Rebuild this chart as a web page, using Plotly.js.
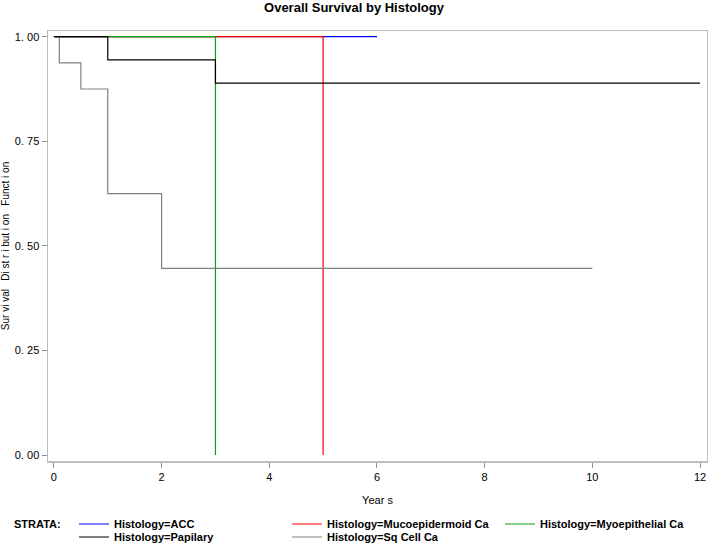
<!DOCTYPE html>
<html>
<head>
<meta charset="utf-8">
<script src="https://cdn.plot.ly/plotly-3.0.1.min.js"></script>
<style>html,body{margin:0;padding:0;background:#fff;}#chart{width:708px;height:543px;}</style>
</head>
<body>
<div id="chart"></div>
<script>
// Kaplan-Meier step data (years, survival probability)
const accTimes = [0, 6];
const accSurv = [1, 1];
const mucoTimes = [0, 5];
const mucoSurv = [1, 0];
const myoTimes = [0, 3];
const myoSurv = [1, 0];
const papTimes = [0, 1, 3, 12];
const papSurv = [1, 0.9444, 0.8889, 0.8889];
const sqTimes = [0, 0.1, 0.5, 1, 2, 10];
const sqSurv = [1, 0.9375, 0.875, 0.625, 0.4464, 0.4464];

const seriesNames = ['Histology=ACC', 'Histology=Mucoepidermoid Ca', 'Histology=Myoepithelial Ca', 'Histology=Papilary', 'Histology=Sq Cell Ca'];
const seriesColors = ['#0000ff', '#ff0000', '#10a010', '#000000', '#808080'];

const xTickVals = [0, 2, 4, 6, 8, 10, 12];
const xTickText = ['0', '2', '4', '6', '8', '10', '12'];
const yTickVals = [0, 0.25, 0.5, 0.75, 1];
const yTickText = ['0. 00', '0. 25', '0. 50', '0. 75', '1. 00'];

const FONT = 'Liberation Sans, Arial, sans-serif';

function stepTrace(x, y, i, legend, rank) {
  return {
    x: x, y: y, type: 'scatter', mode: 'lines',
    line: {shape: 'hv', color: seriesColors[i], width: 1.2},
    name: seriesNames[i], legend: legend, legendrank: rank,
    hoverinfo: 'x+y'
  };
}

const data = [
  stepTrace(accTimes, accSurv, 0, 'legend', 1),
  stepTrace(mucoTimes, mucoSurv, 1, 'legend', 2),
  stepTrace(myoTimes, myoSurv, 2, 'legend', 3),
  stepTrace(sqTimes, sqSurv, 4, 'legend2', 2),
  stepTrace(papTimes, papSurv, 3, 'legend2', 1)
];

const legendCommon = {
  orientation: 'h', xref: 'container', yref: 'container',
  xanchor: 'left', yanchor: 'middle',
  bgcolor: 'rgba(0,0,0,0)', borderwidth: 0,
  font: {family: FONT, size: 11, color: '#000', weight: 'bold'},
  entrywidth: 168, entrywidthmode: 'pixels',
  itemwidth: 30, traceorder: 'normal'
};

const NB = '\u00a0';
const yTitle = NB.repeat(7) + 'Sur vi val' + NB + NB + ' Di st r i but i on' + NB + NB + ' Funct i on';

const layout = {
  width: 708, height: 543,
  margin: {l: 48, r: 1, t: 31, b: 82, pad: 0},
  paper_bgcolor: '#ffffff', plot_bgcolor: '#ffffff',
  font: {family: FONT, size: 11, color: '#000'},
  title: {
    text: 'Overall Survival by Histology',
    font: {family: FONT, size: 13, color: '#000', weight: 'bold'},
    x: 0.5, xanchor: 'center', xref: 'container',
    y: 0.987, yanchor: 'middle', yref: 'container'
  },
  xaxis: {
    range: [-0.11, 12.13], tickmode: 'array', tickvals: xTickVals, ticktext: xTickText,
    showgrid: false, zeroline: false, showline: true, mirror: true,
    linecolor: '#bdbdbd', linewidth: 1.5,
    ticks: 'outside', ticklen: 5, tickcolor: '#909090', tickwidth: 1,
    tickfont: {family: FONT, size: 11, color: '#000'},
    title: {text: 'Year s', font: {family: FONT, size: 11, color: '#000'}, standoff: 14},
    automargin: false
  },
  yaxis: {
    range: [-0.0143, 1.0136], tickmode: 'array', tickvals: yTickVals, ticktext: yTickText,
    showgrid: false, zeroline: false, showline: true, mirror: true,
    linecolor: '#bdbdbd', linewidth: 1.5,
    ticks: 'outside', ticklen: 5, tickcolor: '#909090', tickwidth: 1,
    tickfont: {family: FONT, size: 11, color: '#000'},
    title: {text: yTitle, font: {family: FONT, size: 10, color: '#000'}, standoff: 5},
    automargin: false
  },
  showlegend: true,
  legend: Object.assign({}, legendCommon, {x: 74 / 708, y: 1 - 524 / 543}),
  legend2: Object.assign({}, legendCommon, {x: 74 / 708, y: 1 - 537 / 543}),
  annotations: [{
    text: 'STRATA:', xref: 'paper', yref: 'paper',
    x: (12 - 48) / 659, y: (461 - 524) / 430, xanchor: 'left', yanchor: 'middle',
    showarrow: false, font: {family: FONT, size: 11, color: '#000', weight: 'bold'}
  }]
};

Plotly.newPlot('chart', data, layout, {displayModeBar: false, staticPlot: true});
</script>
</body>
</html>
